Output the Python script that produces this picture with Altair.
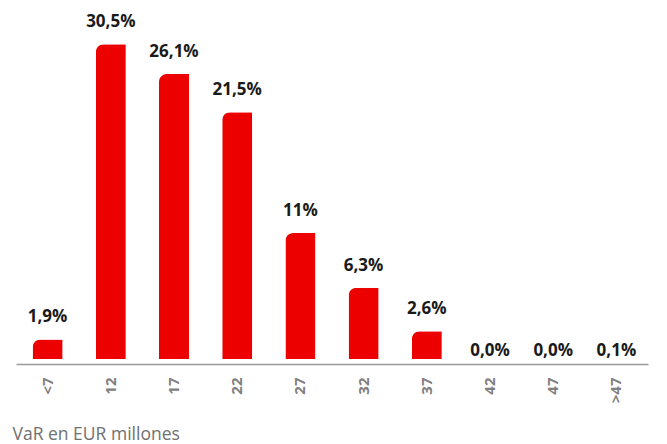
import altair as alt
import pandas as pd

# Categories (VaR buckets, EUR millions)
buckets = ["<7", "12", "17", "22", "27", "32", "37", "42", "47", ">47"]
# Bar heights (% of days)
heights = [1.9, 30.5, 27.6, 23.9, 12.2, 6.9, 2.7, 0.0, 0.0, 0.0]
# Printed labels
labels = ["1,9%", "30,5%", "26,1%", "21,5%", "11%", "6,3%", "2,6%", "0,0%", "0,0%", "0,1%"]

df = pd.DataFrame({"bucket": buckets, "value": heights, "label": labels})

FONT = "Open Sans"

x_enc = alt.X(
    "bucket:N",
    sort=buckets,
    scale=alt.Scale(paddingInner=0.525, paddingOuter=0.2625),
    axis=alt.Axis(
        title="VaR en EUR millones",
        titleX=-4,
        titleY=75,
        titleAlign="left",
        titleAnchor="start",
        titleBaseline="alphabetic",
        titleFont=FONT,
        titleFontSize=17.5,
        titleFontWeight="normal",
        titleColor="#707070",
        labelAngle=270,
        labelAlign="right",
        labelBaseline="middle",
        labelFont=FONT,
        labelFontSize=15,
        labelFontWeight="bold",
        labelColor="#808080",
        labelPadding=13,
        ticks=False,
        domainColor="#9a9a9a",
        domainWidth=1.5,
        offset=5,
        grid=False,
    ),
)
y_enc = alt.Y("value:Q", scale=alt.Scale(domain=[0, 34]), axis=None)

base = alt.Chart(df)

bars = base.mark_bar(color="#EC0000", cornerRadiusTopLeft=8).encode(x=x_enc, y=y_enc)

text_style = dict(font=FONT, fontSize=17, fontWeight="bold", color="#1a1a1a",
                  align="center", baseline="alphabetic")

text_big = base.transform_filter("datum.value >= 1").mark_text(dy=-17, **text_style).encode(
    x=x_enc, y=y_enc, text="label:N")
text_small = base.transform_filter("datum.value < 1").mark_text(dy=-3, **text_style).encode(
    x=x_enc, y=y_enc, text="label:N")

chart = (
    alt.layer(bars, text_big, text_small)
    .properties(
        width=632,
        height=351,
        autosize=alt.AutoSizeParams(type="none"),
        padding={"left": 8, "top": 0, "right": 10, "bottom": 88},
        background="white",
    )
    .configure_view(strokeWidth=0, stroke="transparent")
)

chart.save("out.html", embed_options={"renderer": "svg", "actions": False})
